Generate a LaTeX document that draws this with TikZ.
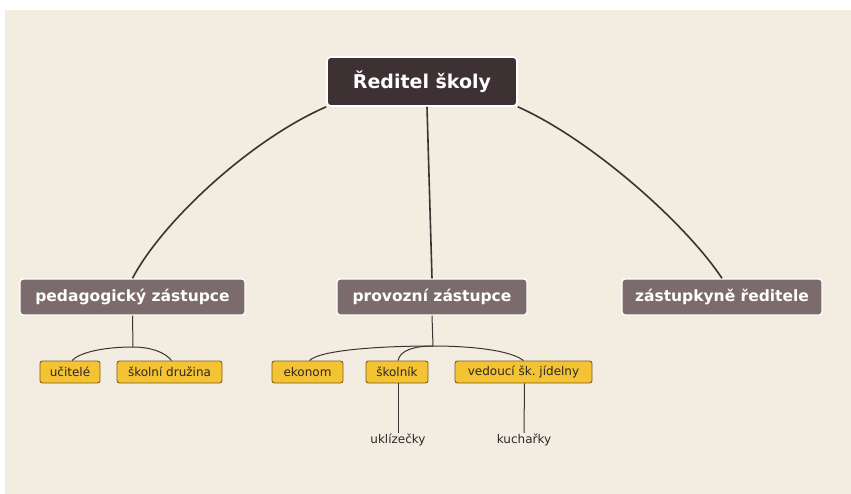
\documentclass[tikz,border=0pt]{standalone}
\usepackage{fontspec}
\setmainfont{DejaVu Sans}
\frenchspacing
\begin{document}
\begin{tikzpicture}[x=1pt,y=-1pt,
  rootbox/.style={draw=white,line width=1.6pt,fill=rootc,rounded corners=4pt,minimum width=190pt,minimum height=49pt,inner sep=0pt,text=white,font=\fontsize{19}{22}\selectfont\bfseries},
  midbox/.style={draw=white,line width=1.4pt,fill=midc,rounded corners=3pt,minimum height=36pt,inner sep=0pt,text=white,font=\fontsize{15.5}{18}\selectfont\bfseries},
  leafbox/.style={draw=leafb,line width=0.9pt,fill=leafc,rounded corners=2.5pt,minimum height=22pt,inner sep=0pt,text=leaft,font=\fontsize{12}{14}\selectfont},
  plain/.style={text=leaft,font=\fontsize{12}{14}\selectfont,inner sep=1pt},
  link/.style={draw=linec,line width=1.6pt},
  thin/.style={draw=linec,line width=1pt}]
\definecolor{bgc}{HTML}{F3ECE1}
\definecolor{rootc}{HTML}{3D3133}
\definecolor{midc}{HTML}{7B6B6D}
\definecolor{leafc}{HTML}{F3C333}
\definecolor{leafb}{HTML}{7A5E1E}
\definecolor{leaft}{HTML}{2E2626}
\definecolor{linec}{HTML}{3A3333}
\useasboundingbox (0,0) rectangle (851,493);
\fill[white] (0,0) rectangle (851,493);
\fill[bgc] (5,10) rectangle (852,494);

\node[rootbox] (root) at (422,81.5) {Ředitel školy};
\node[midbox,minimum width=225pt] (ped) at (132.5,297) {pedagogický zástupce};
\node[midbox,minimum width=190pt] (prov) at (432,297) {provozní zástupce};
\node[midbox,minimum width=200pt] (zast) at (722,297) {zástupkyně ředitele};

\node[leafbox,minimum width=60pt] (uc) at (70,372) {učitelé};
\node[leafbox,minimum width=105pt] (sd) at (169.5,372) {školní družina};
\node[leafbox,minimum width=71pt] (ek) at (307.5,372) {ekonom};
\node[leafbox,minimum width=62pt] (sk) at (397,372) {školník};
\node[leafbox,minimum width=137pt] (ved) at (523.5,372) {vedoucí šk. jídelny};

\node[plain] (ukl) at (398,440) {uklízečky};
\node[plain] (kuch) at (524,440) {kuchařky};

\coordinate (pb) at (133,347);
\coordinate (vb) at (433,346);

\draw[link] (root.south west) .. controls (250,140) and (162,222) .. (ped.north);
\draw[link] ([xshift=5pt]root.south) -- (prov.north);
\draw[link] (root.south east) .. controls (592,140) and (686,224) .. (zast.north);

\draw[thin] (ped.south) -- (pb);
\draw[thin] (pb) .. controls (105,347) and (80,352) .. ([xshift=2pt]uc.north);
\draw[thin] (pb) .. controls (150,347) and (165,352) .. ([xshift=2pt]sd.north);

\draw[thin] (prov.south) -- (vb);
\draw[thin] (vb) .. controls (380,346) and (320,350) .. ([xshift=2pt]ek.north);
\draw[thin] (vb) .. controls (415,346) and (400,350) .. ([xshift=1pt]sk.north);
\draw[thin] (vb) .. controls (470,346) and (510,350) .. (ved.north);

\draw[thin] ([xshift=1pt]sk.south) -- (ukl.north);
\draw[thin] ([xshift=1pt]ved.south) -- (kuch.north);
\end{tikzpicture}
\end{document}
